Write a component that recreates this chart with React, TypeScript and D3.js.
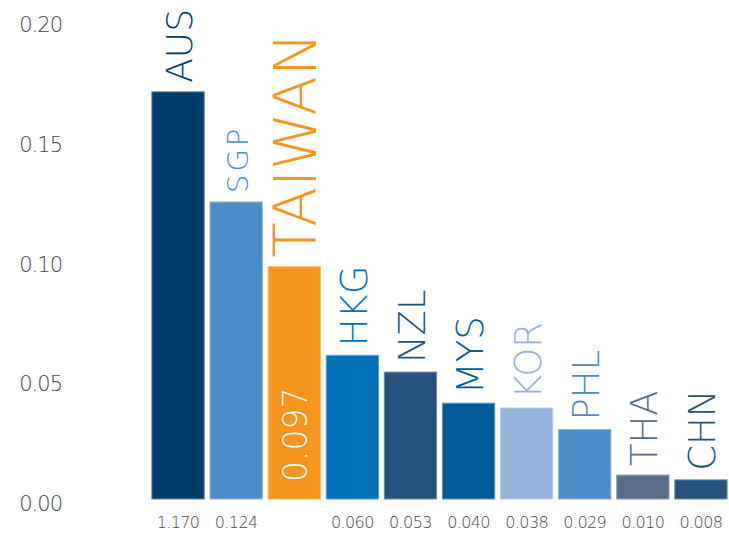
import React from "react";
import * as d3 from "d3";

const codes = ["AUS", "SGP", "TAIWAN", "HKG", "NZL", "MYS", "KOR", "PHL", "THA", "CHN"];
const values = [0.170, 0.124, 0.097, 0.060, 0.053, 0.040, 0.038, 0.029, 0.010, 0.008];
const valueLabels = ["1.170", "0.124", "", "0.060", "0.053", "0.040", "0.038", "0.029", "0.010", "0.008"];
const insideLabel = "0.097";
const yTicks = [0, 0.05, 0.1, 0.15, 0.2];

const barColors: Record<string, string> = {
    AUS: "#003d6d",
    SGP: "#4b8bc8",
    TAIWAN: "#f7941e",
    HKG: "#0071b9",
    NZL: "#26537c",
    MYS: "#005b9b",
    KOR: "#95b4dd",
    PHL: "#4b8bc8",
    THA: "#586d8c",
    CHN: "#26537c",
};

// label font sizes, read from cap heights
const labelSize: Record<string, number> = { AUS: 36, SGP: 29, TAIWAN: 58 };
const labelSpacing: Record<string, number> = { SGP: 3 };

const W = 729;
const H = 533;
const font = "'DejaVu Sans', sans-serif";

export default function App() {
    const x = d3.scaleBand<string>().domain(codes).range([149, 730]).paddingInner(0.1).paddingOuter(0.05);
    const y = d3.scaleLinear([0, 0.2], [499, 20]);
    const fmt = d3.format(".2f");

    return <svg width={W} height={H} style={{ position: "absolute", left: 0, top: 0, background: "#fff" }}>
        {/* y axis labels */}
        <g>
            {yTicks.map((t) => (
                <text key={t} x={62} y={y(t) + 6} textAnchor="end" dominantBaseline="middle"
                    fontFamily={font} fontWeight={200} fontSize={21} fill="#444" letterSpacing={-1}>
                    {fmt(t)}
                </text>
            ))}
        </g>
        {/* bars */}
        <g>
            {codes.map((c, i) => {
                const col = barColors[c];
                return <rect key={c} x={x(c)!} y={y(values[i])} width={x.bandwidth()} height={y(0) - y(values[i])}
                    fill={col} stroke={d3.interpolateRgb(col, "#fff")(0.35)} strokeWidth={1} />;
            })}
        </g>
        {/* rotated labels above bars */}
        <g>
            {codes.map((c, i) => {
                const size = labelSize[c] ?? 37;
                const cap = size * 0.73;
                const cx = x(c)! + x.bandwidth() / 2 + 1;
                return <text key={c} transform={`translate(${cx + cap / 2},${y(values[i]) - 9}) rotate(-90)`}
                    fontFamily={font} fontWeight={200} fontSize={size} fill={barColors[c]}
                    letterSpacing={labelSpacing[c] ?? 0}>
                    {c}
                </text>;
            })}
        </g>
        {/* value inside TAIWAN bar */}
        <text transform={`translate(${x("TAIWAN")! + x.bandwidth() / 2 + 1 + 12},${y(0) - 17}) rotate(-90)`}
            fontFamily={font} fontWeight={200} fontSize={33} fill="#fff">
            {insideLabel}
        </text>
        {/* values under bars */}
        <g>
            {codes.map((c, i) => (
                <text key={c} x={x(c)! + x.bandwidth() / 2} y={523} textAnchor="middle" dominantBaseline="middle"
                    fontFamily={font} fontWeight={300} fontSize={16} fill="#444" letterSpacing={-0.6}>
                    {valueLabels[i]}
                </text>
            ))}
        </g>
    </svg>;
}
